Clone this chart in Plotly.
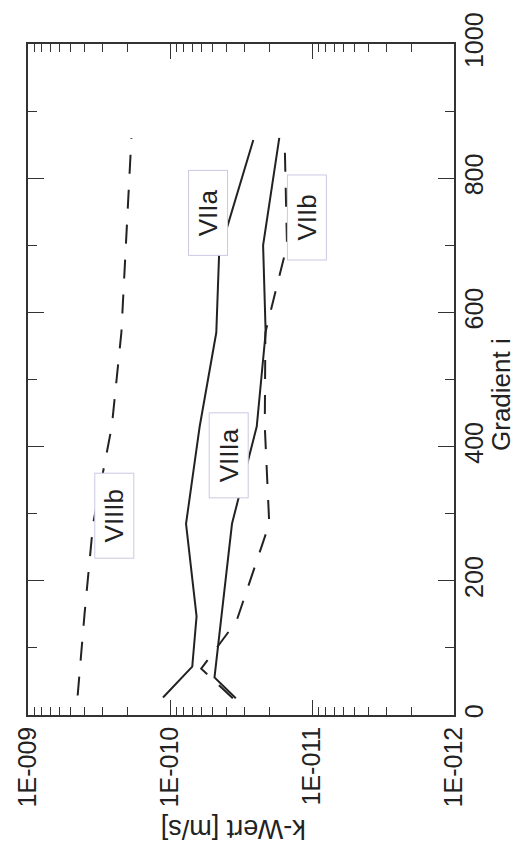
import math
import plotly.graph_objects as go

# ---- data ----
grad_VIIa = [26, 72, 147, 285, 430, 570, 687, 857]
k_VIIa = [1.12e-10, 6.97e-11, 6.50e-11, 7.71e-11, 6.18e-11, 4.72e-11, 4.51e-11, 2.59e-11]

grad_VIIb = [25, 69, 140, 285, 430, 570, 700, 860]
k_VIIb = [3.61e-11, 6.03e-11, 3.40e-11, 2.00e-11, 2.15e-11, 2.13e-11, 1.50e-11, 1.56e-11]

grad_VIIIa = [25, 56, 285, 430, 570, 700, 860]
k_VIIIa = [3.44e-11, 4.86e-11, 3.66e-11, 2.45e-11, 2.12e-11, 2.21e-11, 1.70e-11]

grad_VIIIb = [29, 150, 285, 430, 570, 860]
k_VIIIb = [4.47e-10, 4.00e-10, 3.48e-10, 2.57e-10, 2.20e-10, 1.87e-10]

series_names = ["VIIa", "VIIb", "VIIIa", "VIIIb"]
label_k = [5.36e-11, 1.09e-11, 3.84e-11, 2.48e-10]
label_grad = [749, 741, 387, 297]

k_tickvals = [1e-9, 1e-10, 1e-11, 1e-12]
k_ticktext = ["1E-009", "1E-010", "1E-011", "1E-012"]
grad_tickvals = [0, 200, 400, 600, 800, 1000]

FONT = "Liberation Sans, Arial, sans-serif"
INK = "#222222"
FRAME = "#333333"

fig = go.Figure()
styles = {
    "VIIa": ("solid", grad_VIIa, k_VIIa),
    "VIIb": ("19px,16px", grad_VIIb, k_VIIb),
    "VIIIa": ("solid", grad_VIIIa, k_VIIIa),
    "VIIIb": ("19px,16px", grad_VIIIb, k_VIIIb),
}
for name in series_names:
    dash, g, k = styles[name]
    fig.add_trace(go.Scatter(x=k, y=g, mode="lines", name=name,
                             line=dict(color=INK, width=2, dash=dash),
                             showlegend=False))

for name, kx, gy in zip(series_names, label_k, label_grad):
    fig.add_annotation(x=math.log10(kx), y=gy, xref="x", yref="y",
                       text=name, showarrow=False, textangle=-90,
                       font=dict(family=FONT, size=26, color=INK),
                       bgcolor="white", bordercolor="#cdc8e2", borderwidth=1,
                       width=84, height=38, borderpad=0,
                       xanchor="center", yanchor="middle")

minor_k = [m * 10.0 ** e for e in (-12, -11, -10) for m in range(2, 10)]

fig.update_xaxes(type="log", range=[-9, -12],
                 tickmode="array", tickvals=k_tickvals, ticktext=k_ticktext,
                 tickangle=-90, ticks="inside", ticklen=15, tickwidth=1.2,
                 tickcolor=FRAME, showline=True, linecolor=FRAME, linewidth=1.5,
                 mirror="allticks", showgrid=False, zeroline=False,
                 tickfont=dict(family=FONT, size=25, color=INK),
                 minor=dict(ticks="inside", ticklen=8, tickwidth=1.2,
                            tickmode="array", tickvals=minor_k,
                            tickcolor=FRAME, showgrid=False))

fig.update_yaxes(side="right", range=[0, 1000],
                 tickmode="array", tickvals=grad_tickvals,
                 tickangle=-90, ticks="inside", ticklen=16, tickwidth=1.2,
                 tickcolor=FRAME, showline=True, linecolor=FRAME, linewidth=1.5,
                 mirror="allticks", showgrid=False, zeroline=False,
                 ticklabelstandoff=-3,
                 tickfont=dict(family=FONT, size=25, color=INK),
                 minor=dict(ticks="inside", ticklen=9, tickwidth=1.2,
                            tickmode="linear", tick0=0, dtick=100,
                            tickcolor=FRAME, showgrid=False))

# axis titles (as in the rotated original)
fig.add_annotation(text="Gradient i", xref="paper", yref="paper",
                   x=1.112, y=0.478, showarrow=False, textangle=-90,
                   font=dict(family=FONT, size=26, color=INK),
                   xanchor="center", yanchor="middle")
fig.add_annotation(text="k-Wert [m/s]", xref="paper", yref="paper",
                   x=0.481, y=-0.17, showarrow=False, textangle=180,
                   font=dict(family=FONT, size=27, color=INK),
                   xanchor="center", yanchor="middle")

fig.update_layout(width=516, height=849,
                  margin=dict(l=28, r=62, t=35, b=134),
                  plot_bgcolor="white", paper_bgcolor="white",
                  showlegend=False)

fig.write_html("out.html")
